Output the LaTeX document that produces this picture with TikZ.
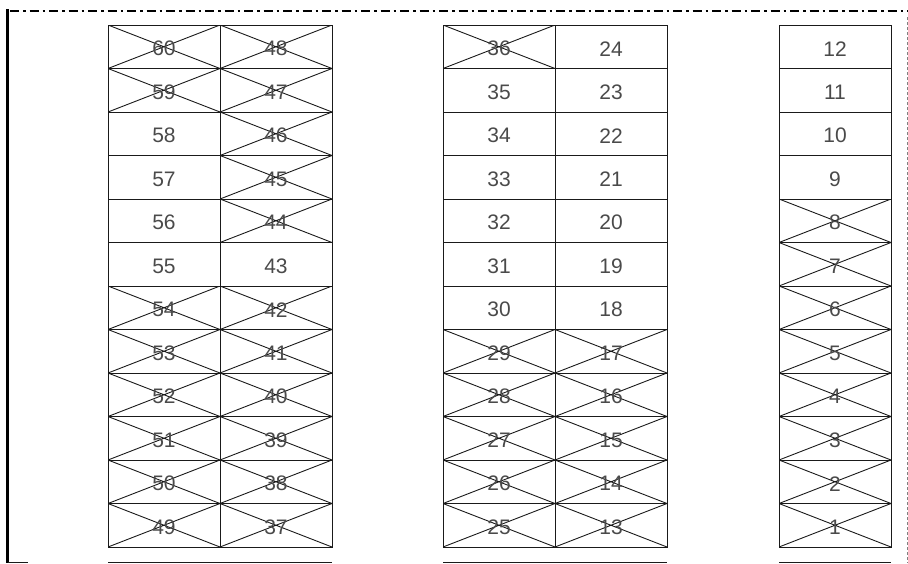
\documentclass[tikz,border=0pt]{standalone}
\usepackage{fontspec}
\setmainfont{Liberation Sans}
\definecolor{numgray}{HTML}{4A4A4A}
\definecolor{linegray}{HTML}{1A1A1A}
\begin{document}
\begin{tikzpicture}[x=1pt,y=-1pt,
  cellbase/.style={draw=linegray, line width=1pt, rectangle, inner sep=0pt,
    minimum width=112pt, minimum height=43.5pt},
  numlabel/.style={font=\fontsize{21}{21}\selectfont, text=numgray, yshift=-2pt, inner sep=0pt},
  pcell/.style={cellbase},
  xcell/.style={cellbase, path picture={
    \draw[linegray, line width=0.9pt]
      (path picture bounding box.north west) -- (path picture bounding box.south east)
      (path picture bounding box.north east) -- (path picture bounding box.south west);}},
  frameline/.style={line width=2.4pt, dash pattern=on 9pt off 4pt on 2.5pt off 4pt},
  baseline/.style={draw=linegray, line width=1pt}]
\useasboundingbox (0,0) rectangle (908,563);
% frame
\draw[frameline] (10,11) -- (908,11);
\draw[line width=3.2pt] (7.7,9) -- (7.7,563);
\draw[gray, line width=0.9pt, dash pattern=on 3pt off 2pt] (907.4,17) -- (907.4,563);
% cells
\foreach \n/\s [count=\i from 0] in {60/xcell,59/xcell,58/pcell,57/pcell,56/pcell,55/pcell,54/xcell,53/xcell,52/xcell,51/xcell,50/xcell,49/xcell}
  \node[\s, label={[numlabel]center:\n}] (c\n) at (164,{46.75+43.5*\i}) {};
\foreach \n/\s [count=\i from 0] in {48/xcell,47/xcell,46/xcell,45/xcell,44/xcell,43/pcell,42/xcell,41/xcell,40/xcell,39/xcell,38/xcell,37/xcell}
  \node[\s, label={[numlabel]center:\n}] (c\n) at (276,{46.75+43.5*\i}) {};
\foreach \n/\s [count=\i from 0] in {36/xcell,35/pcell,34/pcell,33/pcell,32/pcell,31/pcell,30/pcell,29/xcell,28/xcell,27/xcell,26/xcell,25/xcell}
  \node[\s, label={[numlabel]center:\n}] (c\n) at (499,{46.75+43.5*\i}) {};
\foreach \n/\s [count=\i from 0] in {24/pcell,23/pcell,22/pcell,21/pcell,20/pcell,19/pcell,18/pcell,17/xcell,16/xcell,15/xcell,14/xcell,13/xcell}
  \node[\s, label={[numlabel]center:\n}] (c\n) at (611,{46.75+43.5*\i}) {};
\foreach \n/\s [count=\i from 0] in {12/pcell,11/pcell,10/pcell,9/pcell,8/xcell,7/xcell,6/xcell,5/xcell,4/xcell,3/xcell,2/xcell,1/xcell}
  \node[\s, label={[numlabel]center:\n}] (c\n) at (835,{46.75+43.5*\i}) {};
% bottom lines
\draw[baseline] (8,562) -- (28,562);
\draw[baseline] (108,562) -- (332,562);
\draw[baseline] (443,562) -- (667,562);
\draw[baseline] (779,562) -- (891,562);
\end{tikzpicture}
\end{document}
